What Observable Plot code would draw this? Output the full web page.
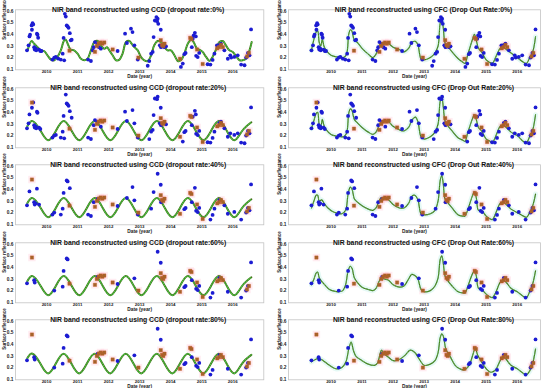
<!DOCTYPE html>
<html><head><meta charset="utf-8">
<script src="https://cdn.jsdelivr.net/npm/d3@7"></script>
<script src="https://cdn.jsdelivr.net/npm/@observablehq/plot@0.6"></script>
<style>
body{margin:0;background:#fff;width:550px;height:388px;overflow:hidden;position:relative}
.panel{position:absolute;width:275px;height:78px}
.panel svg{overflow:visible}
</style></head><body>
<script>
// ---------- data ----------
const years = [2010, 2011, 2012, 2013, 2014, 2015, 2016];
const yTicks = [0.1, 0.2, 0.3, 0.4, 0.5, 0.6];
const rates = [0, 20, 40, 60, 80];

// observations (blue) and the dropout rate from which each one is removed
const obsYear = [2009.37,2009.42,2009.45,2009.47,2009.52,2009.53,2009.55,2009.57,2009.60,2009.62,2009.65,2009.67,2009.69,2009.71,2009.73,2009.76,2009.80,2009.84,
  2010.19,2010.25,2010.30,2010.38,2010.46,2010.52,2010.57,2010.55,2010.59,2010.62,2010.65,2010.68,2010.71,2010.75,2010.78,2010.81,
  2011.34,2011.43,2011.49,2011.52,2011.56,2011.65,2011.69,2011.75,
  2012.29,2012.53,2012.59,2012.72,2012.77,2012.83,2012.94,
  2013.26,2013.31,2013.37,2013.42,2013.45,2013.49,2013.54,2013.56,2013.58,2013.60,2013.68,2013.65,2013.69,2013.80,2013.85,
  2014.33,2014.39,2014.44,2014.48,2014.68,2014.71,2014.74,2014.78,2014.81,2014.82,2014.87,2014.92,
  2015.19,2015.28,2015.35,2015.41,2015.49,2015.57,2015.62,2015.73,2015.84,2015.92,2015.95,
  2016.05,2016.16,2016.27,2016.38,2016.43,2016.49,2016.54,2016.59];
const obsValue = [0.263,0.306,0.383,0.397,0.477,0.44,0.497,0.486,0.29,0.269,0.28,0.263,0.406,0.397,0.371,0.269,0.257,0.257,
  0.183,0.20,0.206,0.191,0.183,0.234,0.177,0.37,0.577,0.554,0.477,0.469,0.457,0.411,0.349,0.354,
  0.183,0.171,0.263,0.29,0.334,0.32,0.29,0.277,
  0.257,0.406,0.326,0.449,0.42,0.306,0.183,
  0.13,0.17,0.234,0.249,0.377,0.52,0.549,0.514,0.535,0.491,0.44,0.306,0.29,0.29,0.297,
  0.12,0.149,0.23,0.24,0.29,0.363,0.391,0.414,0.383,0.215,0.205,0.24,
  0.143,0.14,0.18,0.234,0.306,0.31,0.32,0.263,0.19,0.22,0.20,
  0.206,0.22,0.14,0.134,0.20,0.24,0.22,0.443];
const obsDropAt = [100,40,60,20,20,40,20,40,100,100,60,40,60,40,20,60,40,20,
  60,100,40,20,60,100,40,100,20,40,100,100,40,60,20,40,
  60,60,20,60,40,100,20,40,
  100,40,60,20,60,100,60,
  20,40,60,40,60,40,20,40,100,20,100,40,60,20,40,
  20,40,100,100,100,40,20,60,40,100,100,100,
  40,100,100,60,20,100,40,60,100,40,20,
  60,40,100,40,100,100,60,100];

// flagged samples (brown squares) and the rate from which each is shown
const flagYear = [2009.53,2010.74,2011.56,2011.62,2011.68,2011.74,2011.80,2011.86,2012.13,2012.96,2013.68,2013.72,2013.76,2013.80,2014.30,2014.63,2014.67,2014.85,2015.03,2015.50,2015.56,2015.62,2015.68,2016.46,2016.52];
const flagValue = [0.485,0.26,0.25,0.30,0.32,0.33,0.32,0.33,0.27,0.20,0.35,0.31,0.30,0.32,0.19,0.37,0.36,0.27,0.145,0.28,0.29,0.31,0.29,0.21,0.24];
const flagFrom = [20,0,0,0,0,0,0,0,0,0,0,0,0,0,0,0,0,0,0,0,0,0,0,0,0];

// CCD fitted curves
const ccd0 = [[2009.39,0.263],[2009.52,0.343],[2009.60,0.32],[2009.71,0.29],[2009.80,0.263],[2009.92,0.257],[2010.03,0.22],[2010.14,0.183],[2010.25,0.177],[2010.35,0.206],[2010.46,0.263],[2010.57,0.349],[2010.62,0.354],[2010.68,0.32],[2010.78,0.269],[2010.89,0.263],[2011.0,0.234],[2011.11,0.19],[2011.22,0.177],[2011.32,0.19],[2011.43,0.263],[2011.54,0.334],[2011.65,0.343],[2011.75,0.306],[2011.86,0.277],[2011.95,0.29],[2012.02,0.263],[2012.13,0.22],[2012.24,0.177],[2012.34,0.18],[2012.45,0.234],[2012.56,0.334],[2012.67,0.343],[2012.74,0.32],[2012.83,0.29],[2012.94,0.263],[2013.04,0.206],[2013.15,0.177],[2013.26,0.171],[2013.37,0.22],[2013.47,0.306],[2013.58,0.343],[2013.69,0.334],[2013.80,0.29],[2013.90,0.263],[2014.01,0.263],[2014.12,0.22],[2014.23,0.171],[2014.33,0.177],[2014.44,0.234],[2014.55,0.32],[2014.66,0.354],[2014.74,0.334],[2014.85,0.277],[2014.96,0.263],[2015.03,0.249],[2015.14,0.206],[2015.25,0.171],[2015.35,0.206],[2015.46,0.269],[2015.57,0.334],[2015.68,0.343],[2015.78,0.306],[2015.89,0.263],[2016.0,0.249],[2016.11,0.211],[2016.22,0.177],[2016.32,0.177],[2016.43,0.191],[2016.54,0.263],[2016.61,0.334]];
const ccdSineYear = [2009.38,2009.55,2009.80,2010.05,2010.30,2010.55,2010.80,2011.05,2011.30,2011.55,2011.80,2012.05,2012.30,2012.55,2012.80,2013.05,2013.30,2013.55,2013.80,2014.05,2014.30,2014.55,2014.80,2015.05,2015.30,2015.55,2015.80,2016.05,2016.30,2016.60];
const ccdSine = [0.28,0.325,0.245,0.16,0.24,0.325,0.245,0.16,0.24,0.325,0.245,0.16,0.24,0.325,0.245,0.16,0.24,0.325,0.245,0.16,0.24,0.325,0.245,0.16,0.24,0.325,0.245,0.16,0.24,0.315];
const ccdSine80 = [0.28,0.32,0.235,0.15,0.235,0.32,0.235,0.15,0.235,0.32,0.235,0.15,0.235,0.32,0.235,0.15,0.235,0.32,0.235,0.15,0.235,0.32,0.235,0.15,0.235,0.32,0.235,0.15,0.235,0.31];

// CFC reconstructed curves
const cfc0 = [[2009.37,0.26],[2009.45,0.36],[2009.52,0.42],[2009.57,0.43],[2009.62,0.33],[2009.67,0.30],[2009.72,0.36],[2009.77,0.30],[2009.85,0.26],[2010.0,0.22],[2010.2,0.205],[2010.4,0.20],[2010.5,0.23],[2010.57,0.40],[2010.62,0.44],[2010.67,0.43],[2010.75,0.35],[2010.85,0.33],[2011.0,0.28],[2011.2,0.23],[2011.35,0.20],[2011.45,0.23],[2011.55,0.30],[2011.62,0.33],[2011.7,0.32],[2011.85,0.32],[2012.0,0.29],[2012.2,0.27],[2012.35,0.25],[2012.5,0.28],[2012.6,0.33],[2012.72,0.34],[2012.8,0.31],[2012.9,0.19],[2013.0,0.18],[2013.2,0.20],[2013.35,0.24],[2013.45,0.30],[2013.52,0.50],[2013.57,0.53],[2013.62,0.45],[2013.67,0.33],[2013.75,0.30],[2013.9,0.25],[2014.1,0.19],[2014.25,0.16],[2014.32,0.15],[2014.4,0.22],[2014.55,0.35],[2014.62,0.40],[2014.68,0.35],[2014.75,0.28],[2014.85,0.25],[2015.0,0.18],[2015.1,0.16],[2015.2,0.15],[2015.3,0.20],[2015.45,0.28],[2015.55,0.29],[2015.65,0.27],[2015.8,0.24],[2016.0,0.20],[2016.2,0.16],[2016.3,0.15],[2016.4,0.20],[2016.5,0.25],[2016.59,0.38]];
const cfc20 = [[2009.37,0.26],[2009.45,0.33],[2009.52,0.39],[2009.57,0.40],[2009.62,0.30],[2009.67,0.28],[2009.72,0.34],[2009.77,0.29],[2009.85,0.25],[2010.0,0.21],[2010.2,0.195],[2010.4,0.19],[2010.5,0.22],[2010.57,0.39],[2010.62,0.43],[2010.67,0.42],[2010.75,0.34],[2010.85,0.31],[2011.0,0.27],[2011.2,0.23],[2011.35,0.21],[2011.45,0.23],[2011.55,0.29],[2011.62,0.32],[2011.7,0.32],[2011.85,0.32],[2012.0,0.28],[2012.2,0.25],[2012.35,0.24],[2012.5,0.27],[2012.6,0.33],[2012.72,0.36],[2012.8,0.32],[2012.9,0.19],[2013.0,0.17],[2013.2,0.19],[2013.35,0.23],[2013.45,0.30],[2013.52,0.50],[2013.57,0.53],[2013.62,0.44],[2013.67,0.33],[2013.75,0.29],[2013.9,0.24],[2014.1,0.18],[2014.25,0.16],[2014.32,0.15],[2014.4,0.22],[2014.55,0.34],[2014.62,0.38],[2014.68,0.34],[2014.75,0.27],[2014.85,0.24],[2015.0,0.17],[2015.1,0.155],[2015.2,0.14],[2015.3,0.19],[2015.45,0.28],[2015.55,0.29],[2015.65,0.27],[2015.8,0.23],[2016.0,0.20],[2016.2,0.15],[2016.3,0.14],[2016.4,0.19],[2016.5,0.25],[2016.59,0.38]];
const cfc40 = [[2009.37,0.24],[2009.45,0.30],[2009.52,0.35],[2009.57,0.35],[2009.62,0.30],[2009.7,0.31],[2009.8,0.27],[2009.9,0.24],[2010.05,0.21],[2010.2,0.195],[2010.35,0.19],[2010.47,0.22],[2010.55,0.36],[2010.62,0.42],[2010.68,0.40],[2010.75,0.32],[2010.85,0.29],[2011.0,0.26],[2011.2,0.23],[2011.35,0.22],[2011.45,0.24],[2011.55,0.30],[2011.62,0.33],[2011.72,0.32],[2011.85,0.31],[2012.0,0.27],[2012.2,0.24],[2012.35,0.24],[2012.5,0.28],[2012.6,0.34],[2012.7,0.35],[2012.8,0.31],[2012.9,0.19],[2013.0,0.18],[2013.2,0.19],[2013.35,0.22],[2013.45,0.30],[2013.52,0.48],[2013.57,0.52],[2013.62,0.44],[2013.67,0.32],[2013.75,0.29],[2013.9,0.24],[2014.1,0.18],[2014.25,0.17],[2014.32,0.17],[2014.4,0.22],[2014.55,0.34],[2014.62,0.38],[2014.68,0.33],[2014.75,0.22],[2014.85,0.22],[2015.0,0.17],[2015.1,0.15],[2015.2,0.14],[2015.3,0.19],[2015.45,0.28],[2015.55,0.29],[2015.65,0.27],[2015.8,0.23],[2016.0,0.20],[2016.2,0.17],[2016.3,0.16],[2016.4,0.20],[2016.5,0.26],[2016.59,0.36]];
const cfc60 = [[2009.37,0.25],[2009.45,0.30],[2009.52,0.35],[2009.57,0.36],[2009.62,0.31],[2009.7,0.28],[2009.8,0.25],[2009.95,0.21],[2010.1,0.195],[2010.25,0.19],[2010.38,0.20],[2010.47,0.25],[2010.55,0.37],[2010.62,0.41],[2010.68,0.39],[2010.75,0.31],[2010.85,0.27],[2011.0,0.23],[2011.2,0.21],[2011.35,0.20],[2011.45,0.22],[2011.55,0.28],[2011.62,0.31],[2011.72,0.30],[2011.85,0.29],[2012.0,0.25],[2012.2,0.23],[2012.35,0.24],[2012.5,0.30],[2012.6,0.34],[2012.7,0.33],[2012.8,0.30],[2012.9,0.21],[2013.0,0.19],[2013.2,0.20],[2013.35,0.24],[2013.45,0.31],[2013.52,0.47],[2013.57,0.50],[2013.62,0.43],[2013.67,0.33],[2013.75,0.29],[2013.9,0.24],[2014.1,0.19],[2014.25,0.18],[2014.32,0.18],[2014.4,0.23],[2014.55,0.34],[2014.62,0.37],[2014.68,0.33],[2014.75,0.22],[2014.85,0.21],[2015.0,0.17],[2015.1,0.15],[2015.2,0.14],[2015.3,0.18],[2015.45,0.27],[2015.55,0.29],[2015.65,0.27],[2015.8,0.22],[2016.0,0.19],[2016.2,0.15],[2016.3,0.14],[2016.4,0.19],[2016.5,0.26],[2016.59,0.37]];
const cfc80 = [[2009.37,0.25],[2009.5,0.27],[2009.6,0.28],[2009.75,0.26],[2009.95,0.22],[2010.15,0.19],[2010.35,0.20],[2010.48,0.25],[2010.58,0.37],[2010.65,0.42],[2010.72,0.35],[2010.8,0.30],[2011.0,0.26],[2011.2,0.23],[2011.4,0.22],[2011.5,0.24],[2011.58,0.32],[2011.63,0.35],[2011.7,0.32],[2011.85,0.29],[2012.0,0.26],[2012.2,0.27],[2012.4,0.31],[2012.55,0.35],[2012.7,0.33],[2012.85,0.27],[2013.0,0.22],[2013.2,0.23],[2013.35,0.26],[2013.45,0.33],[2013.52,0.46],[2013.57,0.49],[2013.62,0.47],[2013.7,0.36],[2013.85,0.29],[2014.0,0.22],[2014.15,0.19],[2014.3,0.18],[2014.45,0.22],[2014.58,0.32],[2014.65,0.37],[2014.72,0.31],[2014.85,0.25],[2015.0,0.19],[2015.15,0.16],[2015.3,0.18],[2015.45,0.26],[2015.55,0.30],[2015.65,0.27],[2015.8,0.22],[2016.0,0.19],[2016.2,0.15],[2016.3,0.14],[2016.4,0.17],[2016.5,0.24],[2016.59,0.36]];
const cfcByRate = {0: cfc0, 20: cfc20, 40: cfc40, 60: cfc60, 80: cfc80};

// ---------- drawing ----------
const FONT = "Liberation Sans, Arial, sans-serif";
function panel(method, rate, col, row) {
  const isCCD = method === "CCD";
  const title = isCCD
    ? `NIR band reconstructed using CCD (dropout rate:${rate}%)`
    : `NIR band reconstructed using CFC (Drop Out Rate:${rate}%)`;
  const blue = obsYear.map((t, i) => ({t, v: obsValue[i], d: obsDropAt[i]})).filter(o => o.d > rate);
  const flags = flagYear.map((t, i) => ({t, v: flagValue[i], f: flagFrom[i]})).filter(o => rate >= o.f);
  let line;
  if (isCCD) {
    line = rate === 0 ? ccd0.map(([t, v]) => ({t, v}))
      : ccdSineYear.map((t, i) => ({t, v: (rate === 80 ? ccdSine80 : ccdSine)[i]}));
  } else {
    line = cfcByRate[rate].map(([t, v]) => ({t, v}));
  }
  const ml = isCCD ? 15 : 13, mr = isCCD ? 11.7 : 10;
  const dom = isCCD ? [2009.0, 2017.0] : [2008.63, 2016.75];
  const curve = isCCD && rate > 0 ? "natural" : "catmull-rom";
  const chart = Plot.plot({
    width: 275, height: 78,
    marginLeft: ml, marginRight: mr, marginTop: 9.3, marginBottom: 8.7,
    style: {background: "transparent", fontFamily: FONT, overflow: "visible"},
    x: {domain: dom, label: null},
    y: {domain: [0.095, 0.612], label: null},
    marks: [
      Plot.frame({stroke: "#c4c4c4", strokeWidth: 0.8}),
      isCCD ? null : Plot.line(line, {x: "t", y: "v", curve, stroke: "#d4f5ee", strokeWidth: 5, strokeOpacity: 0.6}),
      Plot.dot(flags, {x: "t", y: "v", symbol: "square", r: 4.2, fill: "#ffc8d8", fillOpacity: 0.35}),
      Plot.line(line, {x: "t", y: "v", curve, stroke: "#46731c", strokeWidth: isCCD ? 2 : 1.2}),
      Plot.line(line, {x: "t", y: "v", curve, stroke: isCCD ? "#49d04a" : "#5cc05a", strokeWidth: isCCD ? 1.1 : 0.8, strokeDasharray: isCCD ? "0.9 1.6" : "0.8 1.8"}),
      Plot.dot(blue, {x: "t", y: "v", r: 1.9, fill: "#1c1cd2"}),
      Plot.dot(flags, {x: "t", y: "v", symbol: "square", r: 1.9, fill: "#a3642a", stroke: "#cc5a2a", strokeWidth: 0.4}),
      Plot.axisX({ticks: years, tickFormat: d => String(d), tickSize: 0, tickPadding: 0, fontSize: 4.4, fontWeight: "bold", fill: "#222", label: null}),
      Plot.axisY({ticks: yTicks, tickFormat: d => d.toFixed(1), tickSize: 0, tickPadding: 2, fontSize: 4.8, fontWeight: "bold", fill: "#222", label: null}),
      Plot.text([title], {frameAnchor: "top", dy: -2.6, dx: isCCD ? -1.5 : 9, fontSize: 6.8, fontWeight: "bold", fill: "#111"}),
      Plot.text(["Date (year)"], {frameAnchor: "bottom", dy: 8.0, fontSize: 4.8, fontWeight: "bold", fill: "#222"}),
      Plot.text(["Surface reflectance"], {frameAnchor: "left", dx: -(ml - 3.6), rotate: -90, fontSize: 4.5, fontWeight: "bold", fill: "#222"})
    ]
  });
  const div = document.createElement("div");
  div.className = "panel";
  div.style.left = (col * 275) + "px";
  div.style.top = (row * 77.6) + "px";
  div.appendChild(chart);
  document.body.appendChild(div);
}
rates.forEach((r, i) => { panel("CCD", r, 0, i); panel("CFC", r, 1, i); });
</script></body></html>
